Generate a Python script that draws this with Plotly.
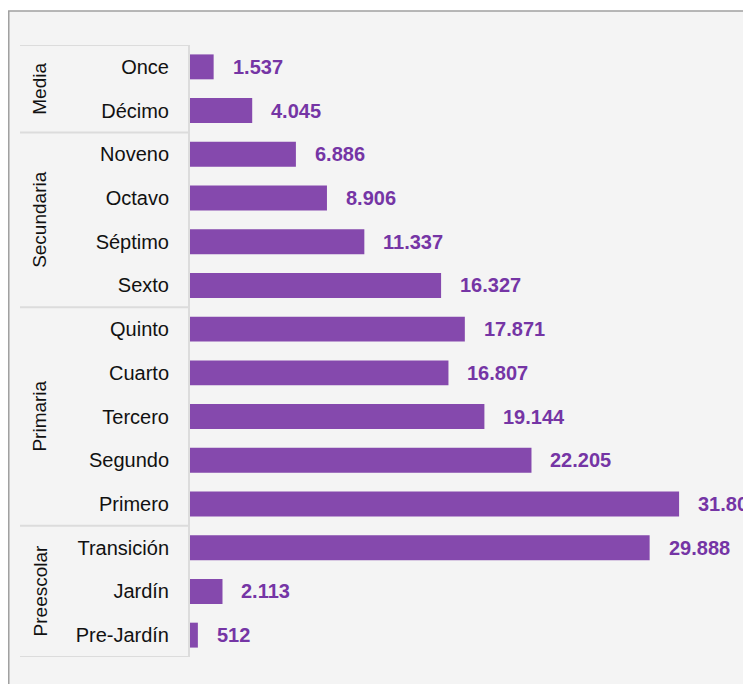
import plotly.graph_objects as go

grades = ["Once", "Décimo", "Noveno", "Octavo", "Séptimo", "Sexto", "Quinto",
          "Cuarto", "Tercero", "Segundo", "Primero", "Transición", "Jardín", "Pre-Jardín"]
values = [1537, 4045, 6886, 8906, 11337, 16327, 17871,
          16807, 19144, 22205, 31804, 29888, 2113, 512]
levels = ["Media", "Secundaria", "Primaria", "Preescolar"]
level_sizes = [2, 4, 5, 3]

BAR = "#8549ad"
TXT = "#7535a5"
FONT = "Liberation Sans, Arial, sans-serif"

fig = go.Figure(go.Bar(
    x=values, y=grades, orientation="h",
    marker=dict(color=BAR, line=dict(width=0)),
    hoverinfo="skip",
))

annotations = []
for g, v in zip(grades, values):
    annotations.append(dict(
        x=v, y=g, xref="x", yref="y", text=f"{v:,}".replace(",", "."),
        showarrow=False, xanchor="left", yanchor="middle", xshift=17,
        font=dict(family=FONT, size=20, color=TXT, weight="bold"),
    ))

shapes = [dict(type="rect", xref="paper", yref="paper",
               x0=-0.3185, x1=1.2, y0=-0.3, y1=1.0556,
               fillcolor="#f4f4f4", line=dict(color="#a0a0a0", width=1.5),
               layer="below")]

start = 0
bounds = [-0.5]
for name, n in zip(levels, level_sizes):
    mid = start + (n - 1) / 2
    annotations.append(dict(
        x=-0.2636, y=mid, xref="paper", yref="y", text=name, textangle=-90,
        showarrow=False, xanchor="center", yanchor="middle",
        font=dict(family=FONT, size=19, color="#111111"),
    ))
    start += n
    bounds.append(start - 0.5)

for b in bounds:
    shapes.append(dict(type="line", xref="paper", yref="y",
                       x0=-0.2988, x1=0, y0=b, y1=b,
                       line=dict(color="#dcdcdc", width=2), layer="above"))

fig.update_layout(
    width=751, height=684,
    margin=dict(l=182, r=0, t=37, b=35),
    paper_bgcolor="white", plot_bgcolor="rgba(0,0,0,0)",
    bargap=0.43, showlegend=False,
    font=dict(family=FONT, size=20, color="#111111"),
    xaxis=dict(visible=False, range=[0, 37000], fixedrange=True),
    yaxis=dict(type="category", range=[13.5, -0.5], showgrid=False,
               showline=True, linecolor="#dcdcdc", linewidth=2,
               ticks="", ticklabelstandoff=15,
               tickfont=dict(family=FONT, size=20, color="#111111")),
    annotations=annotations, shapes=shapes,
)

fig.write_html("out.html")
